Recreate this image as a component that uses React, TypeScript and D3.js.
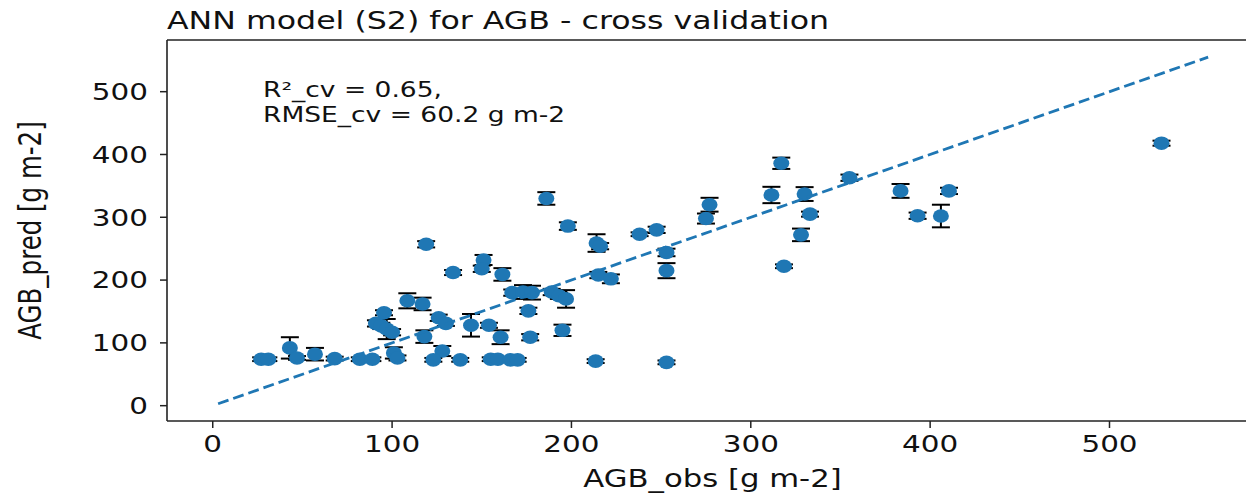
import React from "react";
import * as d3 from "d3";

// Observed vs. predicted above-ground biomass (g m-2) with prediction spread
const obsValues = [
  27, 31, 43, 47, 57, 68, 82, 89, 101, 103,
  95.5, 91, 94, 97, 100, 108.5, 117, 119, 134, 126,
  130, 118, 128, 123, 138, 144, 154, 151, 150, 161.5,
  160.5, 155, 159, 166, 170, 167, 173, 178, 176, 177,
  186, 189, 193, 197, 195, 198, 214, 216, 215, 222,
  213.5, 238, 247.5, 253, 253, 253, 275, 277, 311.5, 317,
  318.5, 328, 330, 333, 355, 383.5, 393, 406, 410.5, 529,
];
const predValues = [
  74, 74, 92, 76, 82, 75, 74, 74, 84, 76,
  148, 131, 127, 122, 117, 167, 162, 257, 212, 140,
  131, 110, 87, 73, 73, 128, 128, 232, 218, 209,
  109, 74, 74, 73, 73, 180, 181, 180, 151, 109,
  330, 181, 175, 170, 120, 286, 259, 254, 208, 202,
  71, 273, 280, 244, 215, 69, 298, 320, 335.5, 386,
  222, 272, 337, 305, 363, 342, 302.5, 302, 342, 418,
];
const predErr = [
  3, 3, 17, 3, 10, 3, 3, 3, 9, 4,
  4, 5, 5, 16, 5, 12, 10, 5, 4, 5,
  4, 10, 8, 3, 3, 18, 4, 8, 5, 10,
  11, 3, 3, 3, 3, 5, 11, 11, 5, 5,
  10, 5, 5, 14, 9, 6, 14, 5, 5, 7,
  3, 3, 5, 6, 12, 3, 8, 11, 13, 9,
  3, 10, 11, 4, 5, 11, 5, 18, 5, 4,
];
// 1:1 reference line
const oneToOne = [3, 555];
const xTicks = [0, 100, 200, 300, 400, 500];
const yTicks = [0, 100, 200, 300, 400, 500];

const titleText = "ANN model (S2) for AGB - cross validation";
const statLines = ["R²_cv = 0.65,", "RMSE_cv = 60.2 g m-2"];
const xLabel = "AGB_obs [g m-2]";
const yLabel = "AGB_pred [g m-2]";

const W = 1246;
const H = 494;
const left = 167;
const top = 40;
const bottom = 421;
const right = 1258;
const SX = 1.28; // horizontal text stretch
const BLUE = "#1f77b4";
const FONT = "DejaVu Sans, sans-serif";

export default function App() {
  const x = d3.scaleLinear().domain([-25.5, 582.8]).range([left, right]);
  const y = d3.scaleLinear().domain([-24.4, 582.3]).range([bottom, top]);

  const points = obsValues.map((o, i) => ({ o, p: predValues[i], e: predErr[i] }));
  const line = d3
    .line<number>()
    .x((v) => x(v))
    .y((v) => y(v));

  return (
    <svg
      width={W}
      height={H}
      style={{ position: "absolute", left: 0, top: 0, background: "#fff" }}
      fontFamily={FONT}
    >
      <rect x={0} y={0} width={W} height={H} fill="#fff" />
      <defs>
        <clipPath id="plot-area">
          <rect x={left} y={top} width={right - left} height={bottom - top} />
        </clipPath>
      </defs>

      {/* title */}
      <text
        transform={`translate(${left},29) scale(${SX},1)`}
        fontSize={24.7}
        fill="#111"
      >
        {titleText}
      </text>

      <g clipPath="url(#plot-area)">
        {/* error bars */}
        {points.map((d, i) => (
          <g key={"e" + i} stroke="#000" strokeWidth={2}>
            <line x1={x(d.o)} x2={x(d.o)} y1={y(d.p - d.e)} y2={y(d.p + d.e)} />
            <line x1={x(d.o) - 9} x2={x(d.o) + 9} y1={y(d.p - d.e)} y2={y(d.p - d.e)} />
            <line x1={x(d.o) - 9} x2={x(d.o) + 9} y1={y(d.p + d.e)} y2={y(d.p + d.e)} />
          </g>
        ))}
        {/* markers */}
        {points.map((d, i) => (
          <ellipse key={"m" + i} cx={x(d.o)} cy={y(d.p)} rx={8} ry={6.8} fill={BLUE} />
        ))}
        {/* 1:1 line */}
        <path
          d={line(oneToOne) || ""}
          fill="none"
          stroke={BLUE}
          strokeWidth={2.8}
          strokeDasharray="11,5"
        />
      </g>

      {/* annotation */}
      {statLines.map((s, i) => (
        <text
          key={s}
          transform={`translate(263,${97 + i * 25}) scale(${SX},1)`}
          fontSize={20.7}
          fill="#111"
        >
          {s}
        </text>
      ))}

      {/* spines */}
      <g stroke="#222" strokeWidth={1.6} fill="none">
        <line x1={left} x2={left} y1={top} y2={bottom} />
        <line x1={left} x2={right} y1={bottom} y2={bottom} />
        <line x1={left} x2={right} y1={top} y2={top} />
      </g>

      {/* x axis */}
      {xTicks.map((t) => (
        <g key={"x" + t}>
          <line x1={x(t)} x2={x(t)} y1={bottom} y2={bottom + 7} stroke="#222" strokeWidth={1.5} />
          <text
            transform={`translate(${x(t)},452) scale(${SX},1)`}
            textAnchor="middle"
            fontSize={23}
            fill="#111"
          >
            {t}
          </text>
        </g>
      ))}
      <text
        transform={`translate(${(left + right) / 2},487) scale(${SX},1)`}
        textAnchor="middle"
        fontSize={24}
        fill="#111"
      >
        {xLabel}
      </text>

      {/* y axis */}
      {yTicks.map((t) => (
        <g key={"y" + t}>
          <line x1={left - 7} x2={left} y1={y(t)} y2={y(t)} stroke="#222" strokeWidth={1.5} />
          <text
            transform={`translate(148,${y(t)}) scale(${SX},1)`}
            textAnchor="end"
            dy="0.36em"
            fontSize={23}
            fill="#111"
          >
            {t}
          </text>
        </g>
      ))}
      <text
        transform={`translate(41,${(top + bottom) / 2}) scale(${SX},1) rotate(-90)`}
        textAnchor="middle"
        fontSize={24.5}
        fill="#111"
      >
        {yLabel}
      </text>
    </svg>
  );
}
